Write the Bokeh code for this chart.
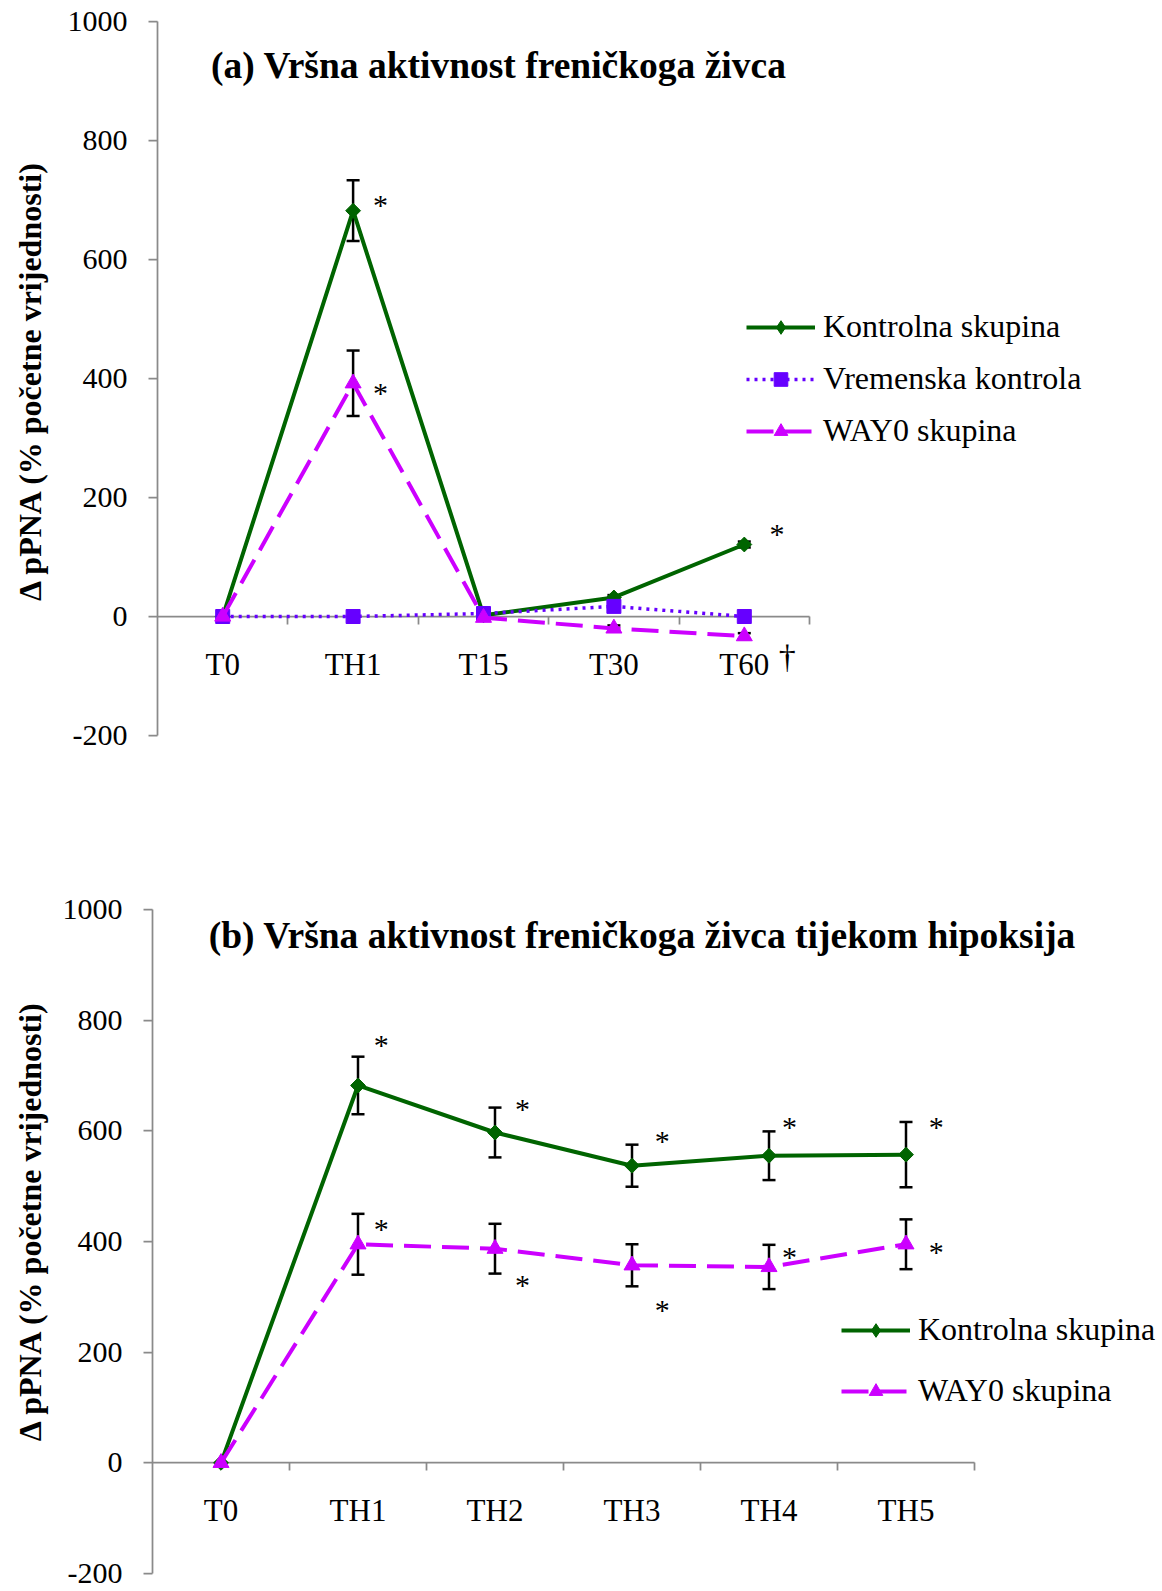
import numpy as np
from bokeh.plotting import figure
from bokeh.models import (Range1d, LinearAxis, FixedTicker, ColumnDataSource, Whisker,
                          TeeHead, Legend, LegendItem, Label, CustomJSTickFormatter)
from bokeh.layouts import column
from bokeh.core.properties import value
from bokeh.embed import file_html
from bokeh.resources import INLINE

# ---------------- data ----------------
cats_a = ["T0", "TH1", "T15", "T30", "T60"]
kontrolna_a = [0, 682, 2, 32, 121]
kontrolna_a_err = [0, 51, 3, 4, 5]
vremenska_a = [0, 0, 5, 17, 0]
vremenska_a_err = [0, 0, 0, 0, 0]
way_a = [0, 392, -2, -20, -33]
way_a_err = [0, 55, 2, 5, 5]
star_a_x = [1.71, 1.71, 4.75]
star_a_y = [696, 379, 143]
dagger_x = [4.83]
dagger_y = [-67]

cats_b = ["T0", "TH1", "TH2", "TH3", "TH4", "TH5"]
kontrolna_b = [0, 682, 597, 537, 555, 557]
kontrolna_b_err = [0, 52, 45, 38, 44, 59]
way_b = [0, 395, 387, 357, 354, 395]
way_b_err = [0, 55, 45, 38, 40, 45]
star_b_x = [1.67, 2.70, 3.72, 4.65, 5.72, 1.67, 2.70, 3.72, 4.65, 5.72]
star_b_y = [760, 644, 587, 612, 612, 428, 326, 280, 376, 386]

y_ticks = [-200, 0, 200, 400, 600, 800, 1000]
y_min, y_max = -200, 1000

title_a = "(a) Vršna aktivnost freničkoga živca"
title_b = "(b) Vršna aktivnost freničkoga živca tijekom hipoksija"
y_label = "Δ pPNA (% početne vrijednosti)"
name_k = "Kontrolna skupina"
name_v = "Vremenska kontrola"
name_w = "WAY0 skupina"

# ---------------- style ----------------
FONT = "Liberation Serif"
AX = "#8a8a8a"
GREEN = "#006400"
PURPLE = "#6600ff"
MAGENTA = "#cc00ff"
W = 1160


def make_fig(cats, fig_h, axis_x, cat_w, top_px, bot_px):
    """Frame fills the whole figure; axes are pinned at x=0 / y=0."""
    n = len(cats)
    ppu = (bot_px - top_px) / (y_max - y_min)
    yr = Range1d(y_min - (fig_h - bot_px) / ppu, y_max + top_px / ppu)
    xr = Range1d(-axis_x / cat_w, (W - axis_x) / cat_w)
    p = figure(width=W, height=fig_h, x_range=xr, y_range=yr,
               output_backend="svg", toolbar_location=None, title=None,
               x_axis_type=None, y_axis_type=None,
               min_border_left=0, min_border_right=0, min_border_top=0, min_border_bottom=0)
    p.outline_line_color = None
    p.background_fill_color = "white"
    p.border_fill_color = "white"

    yax = LinearAxis(ticker=FixedTicker(ticks=y_ticks), fixed_location=0, bounds=(y_min, y_max),
                     axis_line_color=AX, axis_line_width=1.75,
                     major_tick_line_color=AX, major_tick_line_width=1.75,
                     major_tick_out=9, major_tick_in=0, minor_tick_line_color=None,
                     formatter=CustomJSTickFormatter(code="return tick.toFixed(0);"),
                     major_label_text_font=FONT, major_label_text_font_size="30px",
                     major_label_text_color="black", major_label_standoff=21)
    p.add_layout(yax, "left")

    xb = LinearAxis(ticker=FixedTicker(ticks=list(range(1, n + 1))), fixed_location=0,
                    bounds=(0, n),
                    axis_line_color=AX, axis_line_width=1.75,
                    major_tick_line_color=AX, major_tick_line_width=1.75,
                    major_tick_out=8, major_tick_in=0, minor_tick_line_color=None,
                    formatter=CustomJSTickFormatter(code="return '';"),
                    level="underlay")
    p.add_layout(xb, "below")

    centers = list(np.arange(n) + 0.5)
    xl = LinearAxis(ticker=FixedTicker(ticks=centers), fixed_location=0, bounds=(0, n),
                    axis_line_color=None, major_tick_line_color=None,
                    major_tick_out=0, major_tick_in=0, minor_tick_line_color=None,
                    formatter=CustomJSTickFormatter(args=dict(labels=cats),
                                                    code="const i = Math.floor(tick); return (i >= 0 && i < labels.length) ? labels[i] : '';"),
                    major_label_text_font=FONT, major_label_text_font_size="31px",
                    major_label_text_color="black", major_label_standoff=30,
                    level="underlay")
    p.add_layout(xl, "below")
    return p


def add_series(p, vals, errs, color, marker, size, angle, dash, width):
    n = len(vals)
    x = np.arange(n) + 0.5
    vals = np.array(vals, dtype=float)
    errs = np.array(errs, dtype=float)
    mask = errs > 0
    if mask.any():
        src = ColumnDataSource(dict(x=x[mask], upper=(vals + errs)[mask], lower=(vals - errs)[mask]))
        w = Whisker(source=src, base="x", upper="upper", lower="lower",
                    line_color="black", line_width=2.5, level="underlay",
                    upper_head=TeeHead(size=13, line_color="black", line_width=2.5),
                    lower_head=TeeHead(size=13, line_color="black", line_width=2.5))
        p.add_layout(w)
    lr = p.line(x, vals, line_color=color, line_width=width, line_dash=dash)
    sr = p.scatter(x, vals, marker=marker, size=size, angle=angle,
                   fill_color=color, line_color=color)
    return lr, sr


def legend_diamond(p, color):
    # key-only marker (the legend draws markers unrotated); its point is NaN so nothing is plotted
    return p.scatter(x=[np.nan], y=[np.nan], marker="diamond", size=14,
                     fill_color=color, line_color=color)


def stars(p, xs, ys):
    p.text(x=xs, y=ys, text=["*"] * len(xs), text_font=value(FONT), text_font_size="30px",
           text_align="center", text_baseline="alphabetic", y_offset=2, text_color="black")


def style_legend(lg, spacing):
    lg.border_line_color = None
    lg.background_fill_alpha = 0
    lg.padding = 0
    lg.margin = 0
    lg.spacing = spacing
    lg.glyph_width = 69
    lg.glyph_height = 34
    lg.label_height = 34
    lg.label_standoff = 8
    lg.label_text_font = FONT
    lg.label_text_font_size = "32px"
    lg.label_text_color = "black"


# ---------------- panel (a) ----------------
pa = make_fig(cats_a, 870, 157, 130.4, 21, 735)
k_l, k_s = add_series(pa, kontrolna_a, kontrolna_a_err, GREEN, "square", 10.5, np.pi / 4, "solid", 4)
v_l, v_s = add_series(pa, vremenska_a, vremenska_a_err, PURPLE, "square", 14, 0, "3 5", 3.5)
w_l, w_s = add_series(pa, way_a, way_a_err, MAGENTA, "triangle", 16, 0, "27 11", 4)
k_key = legend_diamond(pa, GREEN)
stars(pa, star_a_x, star_a_y)
pa.text(x=dagger_x, y=dagger_y, text=["†"], text_font=value(FONT), text_font_size="34px",
        text_align="center", text_baseline="alphabetic", text_color="black")
pa.add_layout(Label(x=0.41, y=926, text=title_a, text_font=FONT, text_font_style="bold",
                    text_font_size="37.5px", text_align="left", text_baseline="alphabetic",
                    text_color="black"))
pa.add_layout(Label(x=-0.978, y=397, text=y_label, angle=np.pi / 2, text_font=FONT,
                    text_font_style="bold", text_font_size="32px", text_align="center",
                    text_baseline="alphabetic", text_color="black"))
lga = Legend(items=[LegendItem(label=name_k, renderers=[k_l, k_key]),
                    LegendItem(label=name_v, renderers=[v_l, v_s]),
                    LegendItem(label=name_w, renderers=[w_l, w_s])],
             location=(746, 421))
style_legend(lga, 15)
pa.add_layout(lga)

# ---------------- panel (b) ----------------
pb = make_fig(cats_b, 720, 152, 137, 39, 703)
kb_l, kb_s = add_series(pb, kontrolna_b, kontrolna_b_err, GREEN, "square", 10.5, np.pi / 4, "solid", 4)
wb_l, wb_s = add_series(pb, way_b, way_b_err, MAGENTA, "triangle", 16, 0, "27 11", 4)
kb_key = legend_diamond(pb, GREEN)
stars(pb, star_b_x, star_b_y)
pb.add_layout(Label(x=0.41, y=953, text=title_b, text_font=FONT, text_font_style="bold",
                    text_font_size="37.5px", text_align="left", text_baseline="alphabetic",
                    text_color="black"))
pb.add_layout(Label(x=-0.894, y=438, text=y_label, angle=np.pi / 2, text_font=FONT,
                    text_font_style="bold", text_font_size="32px", text_align="center",
                    text_baseline="alphabetic", text_color="black"))
lgb = Legend(items=[LegendItem(label=name_k, renderers=[kb_l, kb_key]),
                    LegendItem(label=name_w, renderers=[wb_l, wb_s])],
             location=(841, 181))
style_legend(lgb, 24)
pb.add_layout(lgb)

layout = column(pa, pb, spacing=0)
open("out.html", "w").write(file_html(layout, INLINE))
